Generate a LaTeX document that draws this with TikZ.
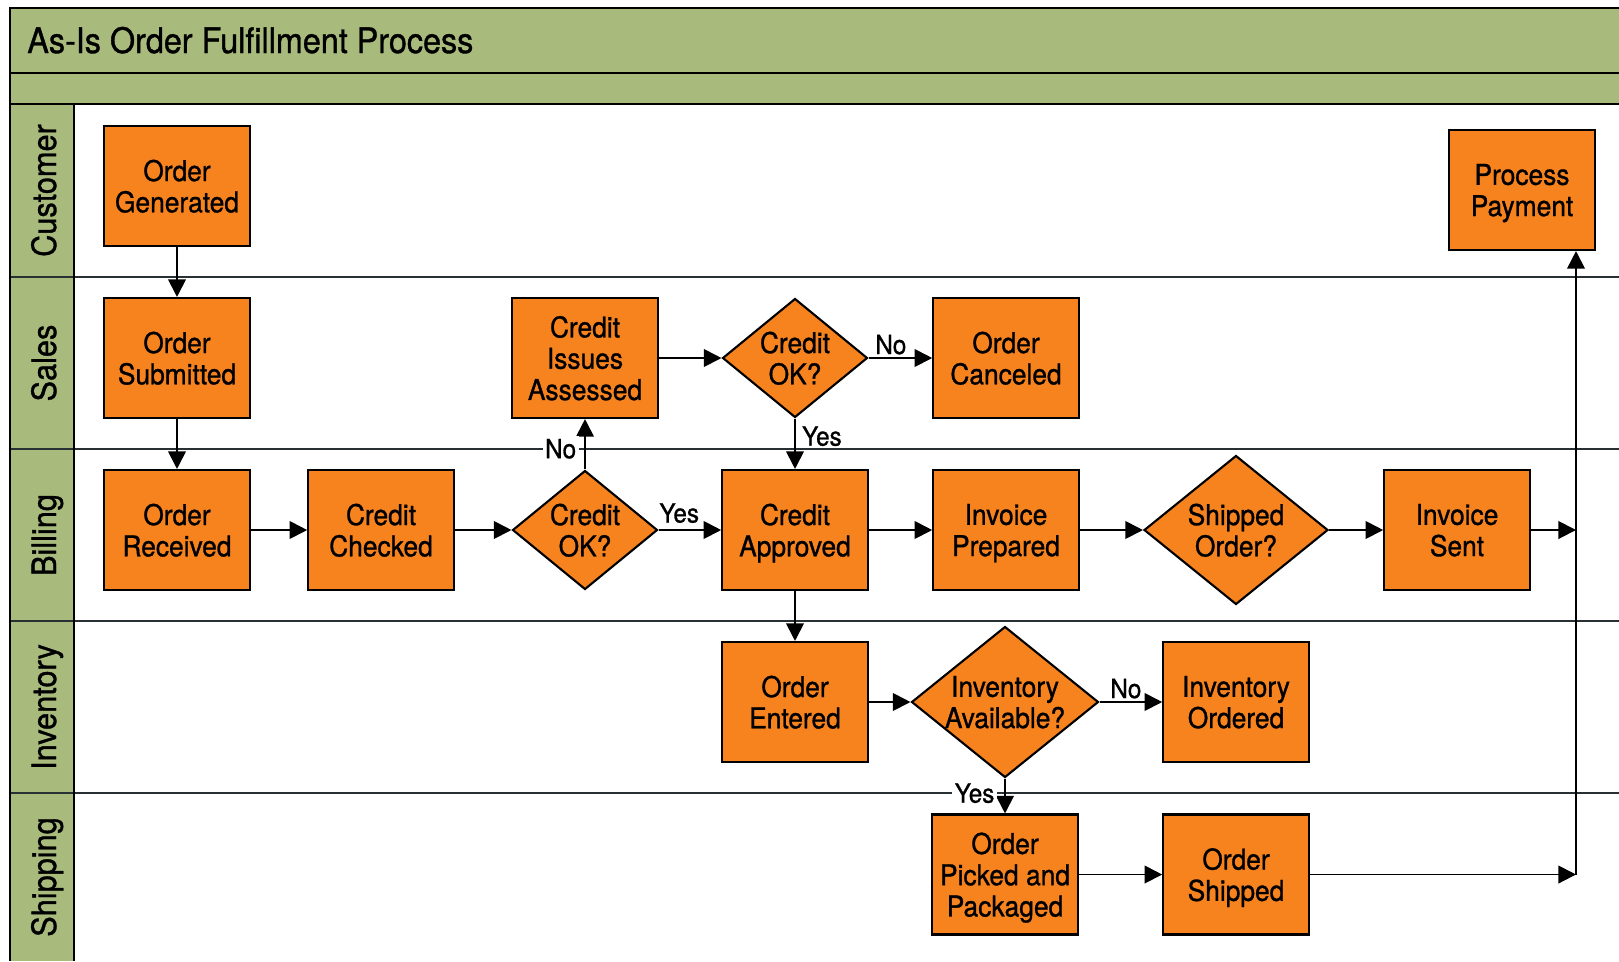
\documentclass[tikz,border=0pt]{standalone}
\usepackage{fontspec}
\setmainfont{TeX Gyre Heros}[FakeStretch=0.92,FakeBold=1]
\usetikzlibrary{calc}
\usetikzlibrary{shapes.geometric}
\usetikzlibrary{arrows.meta}

\definecolor{bandgreen}{RGB}{168,186,124}
\definecolor{steporange}{RGB}{247,131,31}
\definecolor{lanegray}{RGB}{40,48,52}

\tikzset{
  task/.style={draw=black,line width=1.2pt,fill=steporange,minimum width=2.91cm,minimum height=2.4cm,inner sep=0pt,text depth=0pt,align=center,font=\fontsize{16.3}{17.8}\selectfont},
  choice/.style={diamond,draw=black,line width=1.2pt,fill=steporange,inner sep=0pt},
  choicetext/.style={align=center,inner sep=0pt,text depth=0pt,font=\fontsize{16.3}{17.8}\selectfont},
  flow/.style={line width=1.1pt,-{Triangle[length=10pt,width=10pt]}},
  answer/.style={inner sep=1.5pt,font=\fontsize{15}{15}\selectfont},
  lanename/.style={rotate=90,anchor=base,font=\fontsize{19}{19}\selectfont}
}

\begin{document}
\begin{tikzpicture}[x=0.02cm,y=-0.02cm]
            \useasboundingbox (0,0) rectangle (1619,961);
            \fill[white] (0,0) rectangle (1619,961);
            \fill[bandgreen] (10,8) rectangle (1619,104);
            \fill[bandgreen] (10,104) rectangle (74,961);

            \foreach \y in {277,449,621,793}{
                \draw[lanegray,line width=0.9pt] (10,\y) -- (1619,\y);
            }
            \draw[line width=1.3pt] (1619,8) -- (10,8) -- (10,961);
            \draw[line width=1.1pt] (10,73) -- (1619,73);
            \draw[line width=1.1pt] (10,104) -- (1619,104);
            \draw[line width=1.1pt] (74,104) -- (74,961);

            \node[anchor=base west,inner sep=0pt,font=\fontsize{20}{20}\selectfont] (title) at (27,53) {As-Is Order Fulfillment Process};
            \foreach \lane/\y in {Customer/190.5,Sales/363,Billing/535,Inventory/707,Shipping/877}{
                \node[lanename] (lane-\lane) at (56,\y) {\lane};
            }

            \node[task] (gen) at (177,186) {Order\\Generated};
            \node[task] (payment) at (1522,190) {Process\\Payment};
            \node[task] (submitted) at (177,358) {Order\\Submitted};
            \node[task] (issues) at (585,358) {Credit\\Issues\\Assessed};
            \node[choice,minimum width=2.9cm,minimum height=2.38cm,label={[choicetext]center:Credit\\OK?}] (okSales) at (795,358) {};
            \node[task] (canceled) at (1006,358) {Order\\Canceled};
            \node[task] (received) at (177,530) {Order\\Received};
            \node[task] (checked) at (381,530) {Credit\\Checked};
            \node[choice,minimum width=2.9cm,minimum height=2.38cm,label={[choicetext]center:Credit\\OK?}] (okBill) at (585,530) {};
            \node[task] (approved) at (795,530) {Credit\\Approved};
            \node[task] (prepared) at (1006,530) {Invoice\\Prepared};
            \node[choice,minimum width=3.68cm,minimum height=2.98cm,label={[choicetext]center:Shipped\\Order?}] (shippedq) at (1236,530) {};
            \node[task] (sent) at (1457,530) {Invoice\\Sent};
            \node[task] (entered) at (795,702) {Order\\Entered};
            \node[choice,minimum width=3.74cm,minimum height=3.02cm,label={[choicetext]center:Inventory\\Available?}] (avail) at (1005,702) {};
            \node[task] (invordered) at (1236,702) {Inventory\\Ordered};
            \node[task] (picked) at (1005,874.5) {Order\\Picked and\\Packaged};
            \node[task] (shipped) at (1236,874.5) {Order\\Shipped};

            \coordinate (billjoin) at (1576,530);
            \coordinate (shipjoin) at (1576,874.5);

            \draw[flow] (gen) -- (submitted);
            \draw[flow] (submitted) -- (received);
            \draw[flow] (received) -- (checked);
            \draw[flow] (checked) -- (okBill);
            \draw[flow] (okBill) -- node[answer,anchor=south,pos=0.33,yshift=2pt] {Yes} (approved);
            \draw[flow] (okBill) -- node[answer,fill=white,anchor=east,pos=0.41,xshift=-3pt] {No} (issues);
            \draw[flow] (issues) -- (okSales);
            \draw[flow] (okSales) -- node[answer,anchor=south,pos=0.35] {No} (canceled);
            \draw[flow] (okSales) -- node[answer,anchor=west,pos=0.35,xshift=2pt] {Yes} (approved);
            \draw[flow] (approved) -- (prepared);
            \draw[flow] (prepared) -- (shippedq);
            \draw[flow] (shippedq) -- (sent);
            \draw[flow] (approved) -- (entered);
            \draw[flow] (entered) -- (avail);
            \draw[flow] (avail) -- node[answer,anchor=south,pos=0.42] {No} (invordered);
            \draw[flow] (avail) -- node[answer,fill=white,anchor=east,pos=0.42,xshift=-4pt] {Yes} (picked);
            \draw[flow] (picked) -- (shipped);
            \draw[flow] (sent) -- (billjoin);
            \draw[flow] (shipped) -- (shipjoin);
            \draw[flow] (shipjoin) -- (payment.south -| shipjoin);

        \end{tikzpicture}
\end{document}
